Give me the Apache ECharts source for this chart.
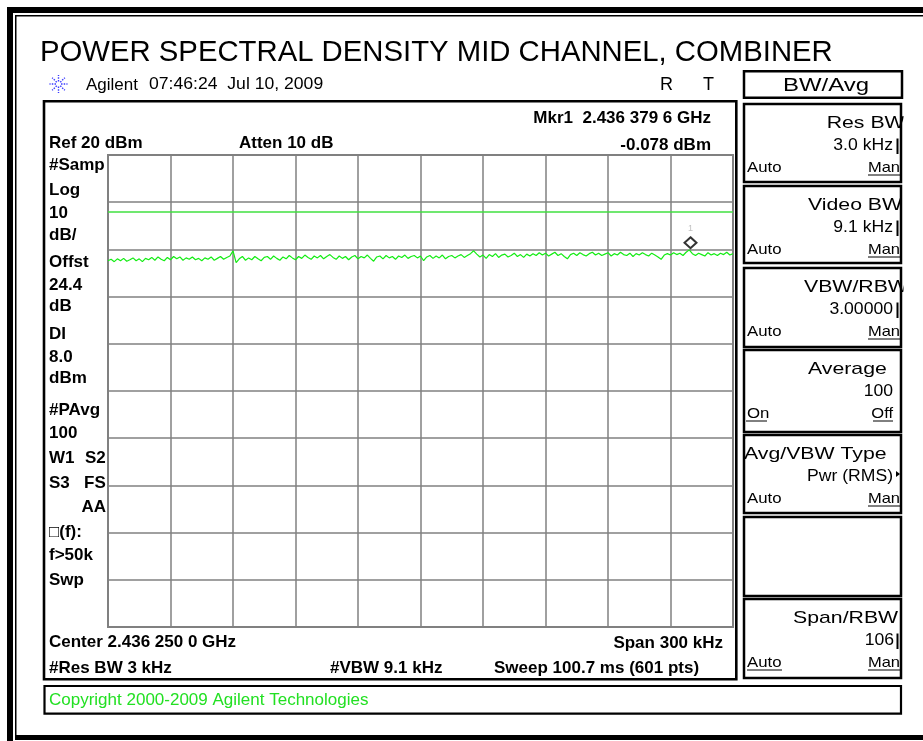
<!DOCTYPE html>
<html>
<head>
<meta charset="utf-8">
<title>Power Spectral Density Mid Channel, Combiner</title>
<script src="https://cdn.jsdelivr.net/npm/echarts@6/dist/echarts.min.js"></script>
<style>
html, body { margin: 0; padding: 0; background: #fff; }
#main { width: 923px; height: 741px; }
</style>
</head>
<body>
<div id="main"></div>
<script>
// sweep settings
var spanKHz = 300;            // 2.436 100 .. 2.436 400 GHz
var refLevel = 20;            // Ref 20 dBm, 10 dB/div
var bottomLevel = -80;
var displayLine = 8.0;        // DI 8.0 dBm
var markerKHz = 279.6;        // Mkr1 2.436 379 6 GHz
var markerDbm = -0.078;

// trace (dBm) in 4 stretches, 201 points over the span
var traceA = [
  -2.4, -2.1, -2.6, -2.0, -2.4, -1.9, -2.5, -2.2, -1.8, -2.4,
  -2.0, -2.6, -1.9, -2.2, -1.7, -2.3, -1.6, -2.1, -2.4, -1.7,
  -2.2, -1.5, -2.0, -1.6, -2.3, -1.8, -2.1, -1.6, -2.2, -1.9,
  -2.4, -1.8, -2.1, -1.6, -2.3, -1.9, -1.5, -2.1, -1.7, -1.4,
  -0.3
];
var traceB = [
  -2.8, -2.0, -1.5, -2.3, -1.8, -2.2, -1.5, -2.0, -2.4, -1.7,
  -1.5, -2.1, -1.4, -1.9, -2.3, -1.6, -2.0, -1.3, -1.8, -2.2,
  -1.5, -1.9, -1.2, -1.7, -2.1, -1.4, -1.8, -1.3, -2.0, -1.5,
  -1.1, -1.7, -2.1, -1.4, -1.9, -1.5, -2.2, -1.6, -1.3, -2.0,
  -1.5, -1.8, -1.2, -1.9, -2.5, -1.6, -1.4, -2.0, -1.3, -1.8,
  -1.5, -2.1, -1.4, -1.7, -1.2, -1.9, -1.5, -1.3, -1.8, -1.4
];
var traceC = [
  -2.4, -1.6, -1.3, -1.9, -1.4, -1.8, -1.2, -2.0, -1.5, -1.3,
  -1.8, -1.4, -1.1, -1.7, -1.3, -0.9, -0.3, -1.0, -1.6, -1.2,
  -1.9, -1.1, -1.5, -0.9, -1.7, -1.2, -1.0, -1.6, -1.3, -0.8,
  -1.5, -1.1, -1.7, -1.0, -1.4
];
var traceD = [
  -0.9, -1.3, -0.7, -1.2, -0.8, -1.4, -1.0, -0.6, -1.3, -0.9,
  -1.5, -2.0, -1.1, -0.8, -1.3, -0.7, -1.1, -1.4, -0.9, -0.6,
  -1.2, -0.8, -1.3, -1.0, -0.7, -1.4, -0.9, -1.2, -0.6, -1.1,
  -1.3, -0.8, -1.5, -0.9, -1.2, -0.7, -1.1, -1.4, -0.8, -1.2,
  -1.6, -2.1, -1.2, -0.9, -1.2, -0.7, -1.1, -0.8, -1.3, -0.6,
  -0.1, -0.9, -1.3, -0.8, -1.1, -1.4, -0.7, -1.2, -0.9, -1.3,
  -0.8, -1.1, -0.6, -1.2, -0.9
];
var trace = traceA.concat(traceB, traceC, traceD);

var FONT = '"Liberation Sans", Arial, sans-serif';

var traceData = [];
for (var i = 0; i < trace.length; i++) {
  traceData.push([i * spanKHz / (trace.length - 1), trace[i]]);
}

// ---- screen furniture ----
var els = [];

function text(x, y, s, font, opt) {
  opt = opt || {};
  els.push({
    type: 'text', x: x, y: y, scaleX: opt.sx || 1, silent: true, z: opt.z || 10,
    style: {
      text: s, font: font, fill: opt.color || '#000',
      align: opt.align || 'left', verticalAlign: 'middle'
    }
  });
}
function box(x, y, w, h, lw) {
  els.push({
    type: 'rect', silent: true, z: 20,
    shape: { x: x, y: y, width: w, height: h },
    style: { fill: 'none', stroke: '#000', lineWidth: lw }
  });
}
function fillRect(x, y, w, h, color, z) {
  els.push({
    type: 'rect', silent: true, z: z || 20,
    shape: { x: x, y: y, width: w, height: h },
    style: { fill: color }
  });
}
function line(x1, y1, x2, y2, lw, color, dash) {
  els.push({
    type: 'line', silent: true, z: 20,
    shape: { x1: x1, y1: y1, x2: x2, y2: y2 },
    style: { stroke: color || '#000', lineWidth: lw, lineDash: dash || null }
  });
}

// outer frame (right edge is cut off)
fillRect(7, 7, 916, 6, '#000');
fillRect(7, 7, 6, 734, '#000');
fillRect(15, 15, 908, 1.5, '#000');
fillRect(15, 15, 1.5, 721, '#000');
fillRect(15, 735, 908, 5, '#000');

// title
text(40, 53, 'POWER SPECTRAL DENSITY MID CHANNEL, COMBINER', '29.3px ' + FONT);

// agilent burst
for (var a = 0; a < 8; a++) {
  var ang = a * Math.PI / 4;
  line(58.5 + 2.5 * Math.cos(ang), 84 + 2.5 * Math.sin(ang),
       58.5 + 9 * Math.cos(ang), 84 + 9 * Math.sin(ang), 1.4, '#3a3aff', [1.5, 1.2]);
}
text(86, 85, 'Agilent', '17px ' + FONT);
text(149, 85, '07:46:24  Jul 10, 2009', '16px ' + FONT, { sx: 1.1 });
text(660, 85, 'R', '18px ' + FONT);
text(703, 85, 'T', '18px ' + FONT);

// instrument box + copyright box
box(44, 101.3, 692.3, 578, 2.6);
box(44.5, 686, 856.5, 27.7, 2.2);
text(49, 700, 'Copyright 2000-2009 Agilent Technologies', '17px ' + FONT, { color: '#22e022' });

var B = 'bold 17px ' + FONT;
text(49, 143, 'Ref 20 dBm', B);
text(239, 143, 'Atten 10 dB', B);
text(711, 118, 'Mkr1  2.436 379 6 GHz', B, { align: 'right' });
text(711, 145, '-0.078 dBm', B, { align: 'right' });

var sideLabels = [
  ['#Samp', 165], ['Log', 190], ['10', 213], ['dB/', 235], ['Offst', 262],
  ['24.4', 285], ['dB', 306], ['DI', 334], ['8.0', 357], ['dBm', 378],
  ['#PAvg', 410], ['100', 433], ['W1', 458], ['S3', 483], ['\u25A1(f):', 532],
  ['f>50k', 555], ['Swp', 580]
];
sideLabels.forEach(function (l) { text(49, l[1], l[0], B); });
text(85, 458, 'S2', B);
text(84, 483, 'FS', B);
text(106, 507, 'AA', B, { align: 'right' });

text(49, 642, 'Center 2.436 250 0 GHz', B);
text(723, 643, 'Span 300 kHz', B, { align: 'right' });
text(49, 668, '#Res BW 3 kHz', B);
text(330, 668, '#VBW 9.1 kHz', B);
text(494, 668, 'Sweep 100.7 ms (601 pts)', B);

// softkey panel
box(744, 71.3, 158, 26.5, 2.5);
text(783, 86, 'BW/Avg', '18px ' + FONT, { sx: 1.33 });

var keyTitles = ['Res BW', 'Video BW', 'VBW/RBW', 'Average', 'Avg/VBW Type', '', 'Span/RBW'];
var keyValues = ['3.0 kHz', '9.1 kHz', '3.00000', '100', 'Pwr (RMS)', '', '106'];
var keyLeft = ['Auto', 'Auto', 'Auto', 'On', 'Auto', '', 'Auto'];
var keyRight = ['Man', 'Man', 'Man', 'Off', 'Man', '', 'Man'];

var keyTop = [104, 186, 268, 350, 435, 517, 599];
var keyBottom = [182, 263, 347, 432, 513, 596, 678];
var titleX = [826.7, 808, 804, 808, 744, 0, 793];

for (var k = 0; k < keyTop.length; k++) {
  var t = keyTop[k];
  box(744, t, 157, keyBottom[k] - t, 2.5);
  if (!keyTitles[k]) continue;
  text(titleX[k], t + 19.5, keyTitles[k], '17px ' + FONT, { sx: 1.25, z: 5 });
  text(k === 6 ? 894 : 893, t + 42, keyValues[k], '16px ' + FONT, { sx: 1.1, align: 'right' });
  if (k === 4) {
    els.push({ type: 'polygon', silent: true, z: 20,
      shape: { points: [[896, t + 36], [896, t + 42], [900, t + 39]] }, style: { fill: '#000' } });
  } else if (k !== 3) {
    line(897.5, t + 34.5, 897.5, t + 50, 2);
  }
  var ay = t + 64;
  text(747, ay, keyLeft[k], '15px ' + FONT, { sx: 1.12 });
  var rx = k === 3 ? 893 : 900;
  text(rx, ay, keyRight[k], '15px ' + FONT, { sx: 1.1, align: 'right' });
  var rw = k === 3 ? 20 : 32;
  line(rx - rw, ay + 7, rx, ay + 7, 1);
  if (k === 3) line(746, ay + 7, 767, ay + 7, 1);
  if (k === 6) line(747, ay + 7, 782, ay + 7, 1);
}
// softkey titles run off the right edge of the keys
fillRect(903.5, 60, 20, 622, '#fff', 15);

var chart = echarts.init(document.getElementById('main'), null, { renderer: 'canvas' });
var option = {
  animation: false,
  backgroundColor: '#fff',
  grid: {
    left: 108, top: 155, width: 625, height: 472,
    show: true, borderColor: '#808080', borderWidth: 2, backgroundColor: 'transparent'
  },
  xAxis: {
    type: 'value', min: 0, max: spanKHz, interval: spanKHz / 10,
    axisLine: { show: false }, axisTick: { show: false }, axisLabel: { show: false },
    splitLine: { show: true, lineStyle: { color: '#808080', width: 1.5 } }
  },
  yAxis: {
    type: 'value', min: bottomLevel, max: refLevel, interval: 10,
    axisLine: { show: false }, axisTick: { show: false }, axisLabel: { show: false },
    splitLine: { show: true, lineStyle: { color: '#808080', width: 1.5 } }
  },
  series: [
    {
      type: 'line',
      data: traceData,
      showSymbol: false,
      silent: true,
      lineStyle: { color: '#14ec14', width: 1.2 },
      markLine: {
        silent: true,
        symbol: ['none', 'none'],
        label: { show: false },
        lineStyle: { color: '#40e040', width: 1.6, type: 'solid' },
        data: [{ yAxis: displayLine }]
      }
    },
    {
      type: 'scatter',
      data: [[markerKHz, markerDbm]],
      symbol: 'diamond',
      symbolSize: [12, 11],
      symbolOffset: [0, -7],
      silent: true,
      z: 5,
      itemStyle: { color: '#fff', borderColor: '#000', borderWidth: 2 },
      label: {
        show: true, formatter: '1', position: 'top', distance: 3,
        color: '#b0b0b0', fontSize: 9, fontFamily: FONT
      }
    }
  ],
  graphic: { elements: els }
};
chart.setOption(option);
</script>
</body>
</html>
